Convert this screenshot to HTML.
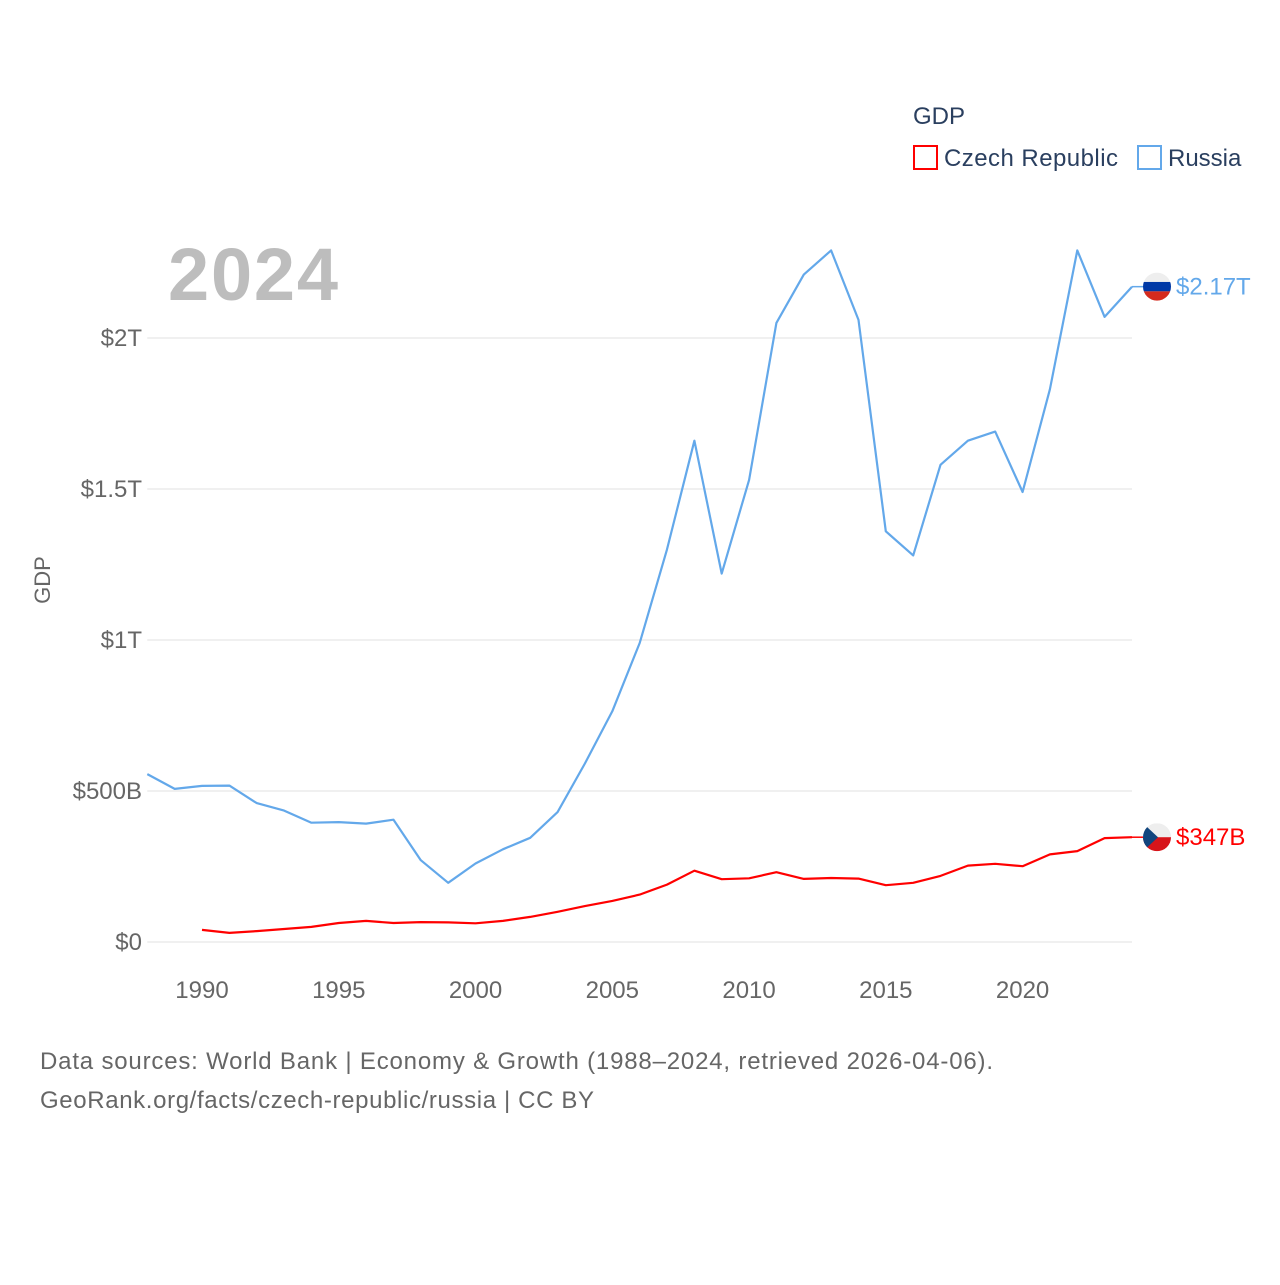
<!DOCTYPE html>
<html><head><meta charset="utf-8">
<style>
body{margin:0;background:#fff;font-family:"Liberation Sans",sans-serif;}
svg text{font-family:"Liberation Sans",sans-serif;}
</style></head>
<body>
<svg id="chart" width="1280" height="1280" viewBox="0 0 1280 1280">
<rect width="1280" height="1280" fill="#fff"/>
<g id="grid"></g>
<g id="yticks"></g>
<g id="xticks"></g>
<text x="168" y="300" font-size="74" font-weight="bold" fill="#bdbdbd" textLength="170">2024</text>
<text x="50" y="580" font-size="22" fill="#666" transform="rotate(-90 50 580)" text-anchor="middle">GDP</text>
<text x="913" y="124" font-size="24" fill="#2a3f5f">GDP</text>
<g>
<rect x="914" y="146" width="23" height="23" fill="none" stroke="#ff0000" stroke-width="2"/>
<text x="944" y="166" font-size="24" fill="#2a3f5f" textLength="174">Czech Republic</text></g>
<g>
<rect x="1138" y="146" width="23" height="23" fill="none" stroke="#63a8ea" stroke-width="2"/>
<text x="1168" y="166" font-size="24" fill="#2a3f5f">Russia</text></g>
<g id="series"></g>
<text x="40" y="1069" font-size="24" fill="#666" textLength="953">Data sources: World Bank | Economy &amp; Growth (1988–2024, retrieved 2026-04-06).</text>
<text x="40" y="1108" font-size="24" fill="#666" textLength="554">GeoRank.org/facts/czech-republic/russia | CC BY</text>
</svg>
<script>
const russiaYears=[1988,1989,1990,1991,1992,1993,1994,1995,1996,1997,1998,1999,2000,2001,2002,2003,2004,2005,2006,2007,2008,2009,2010,2011,2012,2013,2014,2015,2016,2017,2018,2019,2020,2021,2022,2023,2024];
const russiaValues=[0.556,0.507,0.517,0.518,0.460,0.435,0.395,0.397,0.392,0.405,0.271,0.196,0.260,0.307,0.345,0.430,0.591,0.764,0.990,1.30,1.66,1.22,1.53,2.05,2.21,2.29,2.06,1.36,1.28,1.58,1.66,1.69,1.49,1.83,2.29,2.07,2.17];
const czechYears=[1990,1991,1992,1993,1994,1995,1996,1997,1998,1999,2000,2001,2002,2003,2004,2005,2006,2007,2008,2009,2010,2011,2012,2013,2014,2015,2016,2017,2018,2019,2020,2021,2022,2023,2024];
const czechValues=[0.040,0.030,0.036,0.043,0.050,0.063,0.070,0.063,0.066,0.065,0.062,0.070,0.083,0.100,0.119,0.136,0.157,0.190,0.236,0.208,0.211,0.231,0.209,0.212,0.210,0.188,0.196,0.219,0.253,0.259,0.251,0.290,0.301,0.344,0.347];
const yTickValues=[0,0.5,1,1.5,2];
const yTickLabels=["$0","$500B","$1T","$1.5T","$2T"];
const xTickValues=[1990,1995,2000,2005,2010,2015,2020];
const endLabels=["$2.17T","$347B"];

const NS="http://www.w3.org/2000/svg";
const X0=147.3,X1=1132,Y0=942,PPT=302;
function xs(yr){return X0+(yr-1988)*(X1-X0)/36;}
function ys(v){return Y0-v*PPT;}
function mk(t,a,p){const e=document.createElementNS(NS,t);for(const k in a)e.setAttribute(k,a[k]);document.getElementById(p).appendChild(e);return e;}

yTickValues.forEach((v,i)=>{
  const l=mk('line',{x1:X0,x2:X1,y1:ys(v),y2:ys(v),stroke:'#ebebeb','stroke-width':1.5},'grid');
  
  
  const t=mk('text',{x:142,y:ys(v)+8,'font-size':24,fill:'#666','text-anchor':'end'},'yticks');
  t.textContent=yTickLabels[i];
  
  
});
xTickValues.forEach(v=>{
  const t=mk('text',{x:xs(v),y:998,'font-size':24,fill:'#666','text-anchor':'middle'},'xticks');
  t.textContent=v;
  
  
});
function series(yrs,vals,color,name,label,flag){
  const pts=yrs.map((y,i)=>xs(y).toFixed(1)+','+ys(vals[i]).toFixed(1)).join(' ');
  const p=mk('polyline',{points:pts,fill:'none',stroke:color,'stroke-width':2.2,'stroke-linejoin':'round'},'series');
  
  
  const ly=ys(vals[vals.length-1]);
  const c=1157;
  mk('line',{x1:X1,x2:c-14,y1:ly,y2:ly,stroke:color,'stroke-width':1.5},'series');
  const g=mk('g',{},'series');
  
  
  const id='clip'+name;
  const cp=document.createElementNS(NS,'clipPath');cp.setAttribute('id',id);
  const cc=document.createElementNS(NS,'circle');cc.setAttribute('cx',c);cc.setAttribute('cy',ly);cc.setAttribute('r',14);cp.appendChild(cc);g.appendChild(cp);
  const add=(t,a)=>{const e=document.createElementNS(NS,t);for(const k in a)e.setAttribute(k,a[k]);e.setAttribute('clip-path','url(#'+id+')');g.appendChild(e);};
  if(flag==='ru'){
    add('rect',{x:c-14,y:ly-14,width:28,height:10,fill:'#eee'});
    add('rect',{x:c-14,y:ly-4.7,width:28,height:9.4,fill:'#0039a6'});
    add('rect',{x:c-14,y:ly+4.7,width:28,height:10,fill:'#d52b1e'});
  }else{
    add('rect',{x:c-14,y:ly-14,width:28,height:14,fill:'#eee'});
    add('rect',{x:c-14,y:ly,width:28,height:14,fill:'#d7141a'});
    add('polygon',{points:(c-14)+','+(ly-14)+' '+(c+1)+','+ly+' '+(c-14)+','+(ly+14),fill:'#11457e'});
  }
  const t=mk('text',{x:1176,y:ly+8,'font-size':24,fill:color},'series');
  t.textContent=label;
  
  
}
series(russiaYears,russiaValues,'#63a8ea','russia',endLabels[0],'ru');
series(czechYears,czechValues,'#ff0000','czech',endLabels[1],'cz');
</script>
</body></html>
